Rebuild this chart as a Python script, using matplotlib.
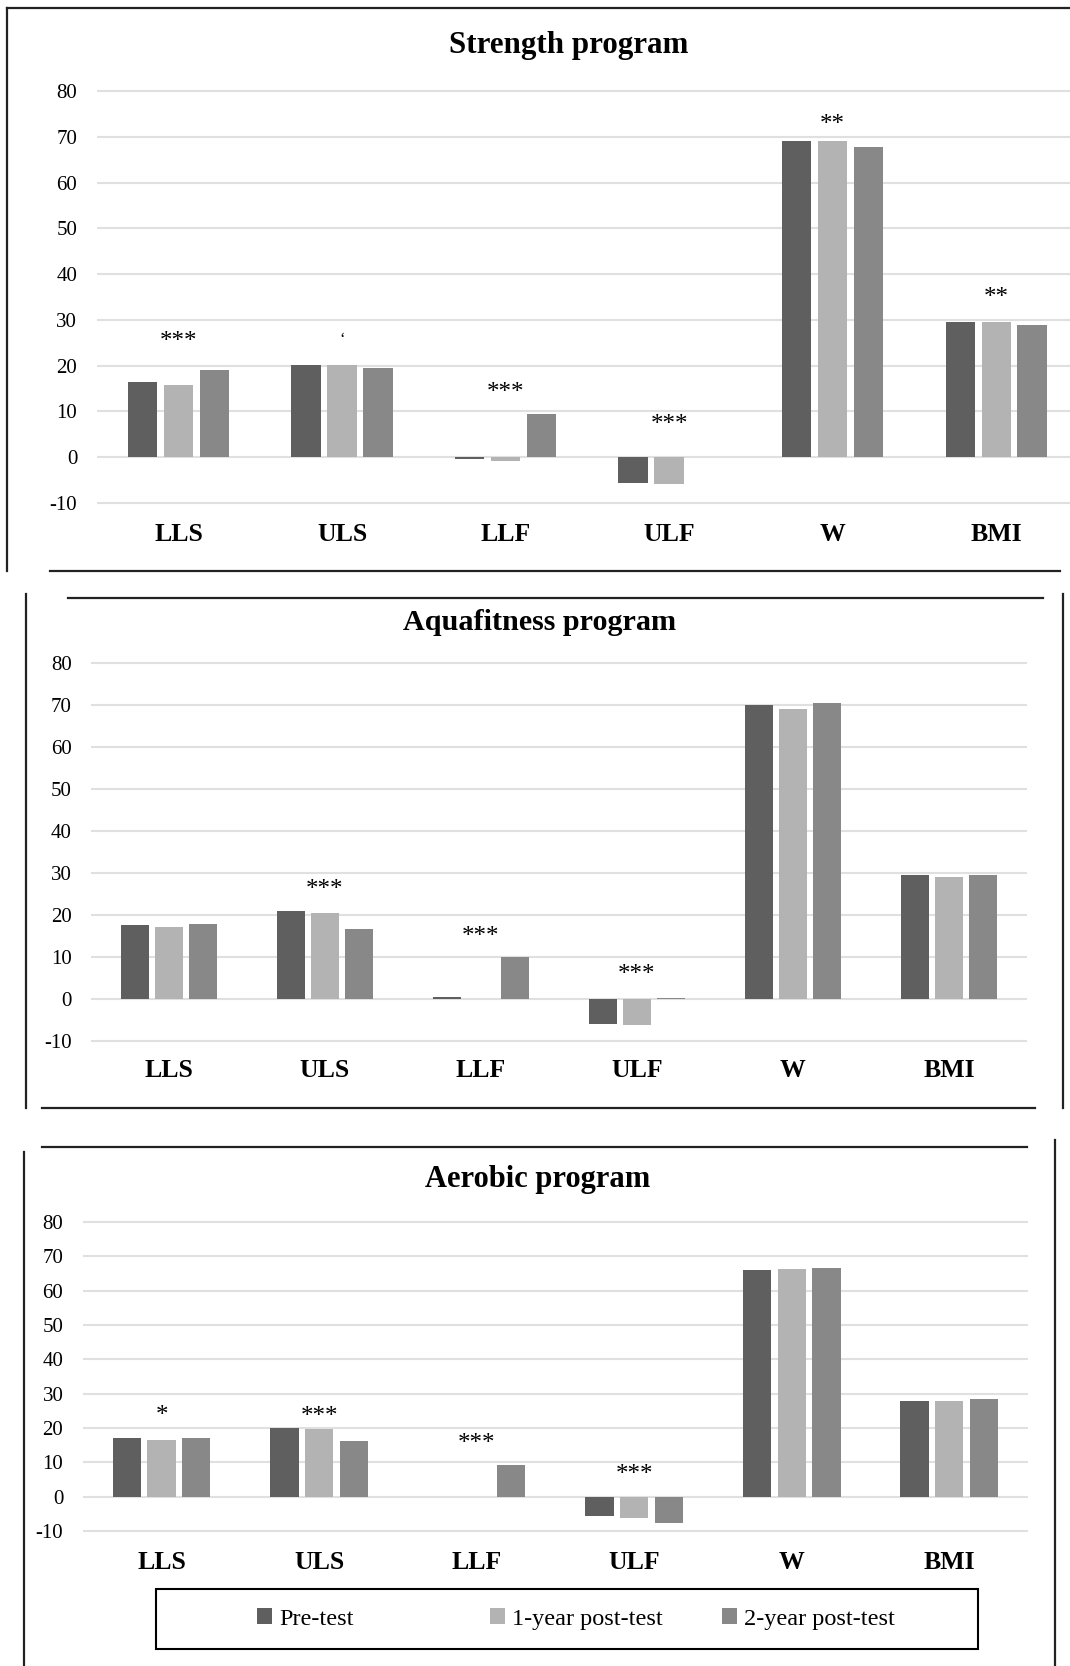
import matplotlib.pyplot as plt
import numpy as np
from matplotlib.lines import Line2D
from matplotlib.patches import Rectangle

plt.rcParams['font.family'] = ['Liberation Serif', 'DejaVu Serif']
plt.rcParams['axes.unicode_minus'] = False

categories = ["LLS", "ULS", "LLF", "ULF", "W", "BMI"]
series_names = ["Pre-test", "1-year post-test", "2-year post-test"]
colors = ["#5f5f5f", "#b3b3b3", "#888888"]

titles = ["Strength program", "Aquafitness program", "Aerobic program"]

strength_pre = [16.3, 20.2, -0.5, -5.6, 69.1, 29.5]
strength_1y = [15.8, 20.2, -0.8, -6.0, 69.1, 29.5]
strength_2y = [19.1, 19.5, 9.5, 0.0, 67.9, 28.8]

aqua_pre = [17.7, 21.0, 0.5, -5.8, 70.0, 29.6]
aqua_1y = [17.2, 20.5, 0.0, -6.2, 69.0, 29.1]
aqua_2y = [18.0, 16.7, 10.1, 0.4, 70.5, 29.6]

aerobic_pre = [17.0, 20.1, 0.0, -5.6, 65.9, 27.8]
aerobic_1y = [16.4, 19.8, 0.0, -6.2, 66.2, 27.8]
aerobic_2y = [17.0, 16.1, 9.3, -7.7, 66.5, 28.5]

# significance marks: (category index, label, y position)
strength_sig = [(0, "***", 25.2), (1, "\u2018", 25.5), (2, "***", 14.0),
                (3, "***", 7.0), (4, "**", 72.6), (5, "**", 34.7)]
aqua_sig = [(1, "***", 25.9), (2, "***", 14.8), (3, "***", 5.7)]
aerobic_sig = [(0, "*", 23.6), (1, "***", 23.3), (2, "***", 15.3), (3, "***", 6.3)]

panels = [
    (strength_pre, strength_1y, strength_2y, strength_sig),
    (aqua_pre, aqua_1y, aqua_2y, aqua_sig),
    (aerobic_pre, aerobic_1y, aerobic_2y, aerobic_sig),
]

W, H = 1070, 1666
fig = plt.figure(figsize=(W / 100, H / 100), dpi=100)


def rect(left, top, right, bottom):
    return [left / W, 1 - bottom / H, (right - left) / W, (bottom - top) / H]


# axes boxes in pixels: left, top, right, bottom
boxes = [(96.7, 86.8, 1078, 507.2), (91, 658.8, 1027, 1045.5), (82.8, 1218.6, 1028, 1534.4)]
label_pads = [11.2, 9.4, 12.2]
title_pos = [(568.5, 45.5), (539.8, 622), (537.7, 1179)]
title_sizes = [22.3, 21.7, 22]

x = np.arange(len(categories))
width = 0.18
offset = 0.22

for i, (pre, y1, y2, sig) in enumerate(panels):
    ax = fig.add_axes(rect(*boxes[i]))
    for j, vals in enumerate([pre, y1, y2]):
        ax.bar(x + (j - 1) * offset, vals, width, color=colors[j], zorder=3,
               label=series_names[j])
    ax.set_xlim(-0.5, 5.5)
    ax.set_ylim(-11, 81)
    ax.set_yticks(range(-10, 81, 10))
    ax.yaxis.grid(True, color="#e0e0e0", linewidth=1.5, zorder=0)
    ax.set_axisbelow(True)
    for s in ax.spines.values():
        s.set_visible(False)
    ax.set_xticks(x)
    ax.set_xticklabels(categories, fontsize=18.5, fontweight="bold")
    ax.tick_params(axis="x", length=0, pad=label_pads[i])
    ax.tick_params(axis="y", length=0, pad=14, labelsize=15)
    for idx, txt, yv in sig:
        fs = 12 if txt == "\u2018" else 18
        ax.text(idx, yv, txt, ha="center", va="center", fontsize=fs, zorder=4)
    tx, ty = title_pos[i]
    fig.text(tx / W, 1 - ty / H, titles[i], ha="center", va="center",
             fontsize=title_sizes[i], fontweight="bold")
    if i == 2:
        handles, labels = ax.get_legend_handles_labels()

# frame lines around the panels (pixel coords)
frame_lines = [
    ((7, 1070), (8, 8)), ((7, 7), (8, 571)), ((50, 1060), (571, 571)),
    ((68, 1043), (598, 598)), ((26, 26), (594, 1108)), ((1063, 1063), (594, 1108)),
    ((42, 1035), (1108, 1108)),
    ((42, 1027), (1147, 1147)), ((24, 24), (1152, 1666)), ((1055, 1055), (1140, 1666)),
]
for xs, ys in frame_lines:
    fig.add_artist(Line2D([v / W for v in xs], [1 - v / H for v in ys],
                          color="#222222", linewidth=1.6))

fig.add_artist(Rectangle((156 / W, 1 - 1649 / H), (977.6 - 156) / W, (1649 - 1588.6) / H,
                         transform=fig.transFigure, fill=False, edgecolor="black",
                         linewidth=1.5))

# one legend entry per slot, like the spreadsheet legend
legend_x = [257, 490, 722]
for h, lab, lx in zip(handles, labels, legend_x):
    fig.legend([h], [lab], loc="center left", bbox_to_anchor=(lx / W, 1 - 1619 / H),
               frameon=False, fontsize=17.5, handlelength=0.6, handleheight=0.6,
               handletextpad=0.3, borderpad=0, borderaxespad=0)

fig.savefig("out.png", dpi=100, facecolor="white")
